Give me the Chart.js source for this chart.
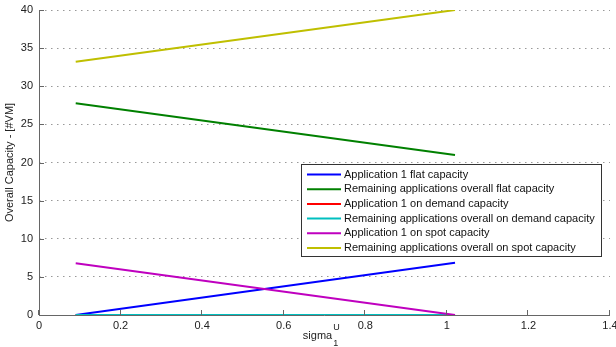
<!DOCTYPE html>
<html>
<head>
<meta charset="utf-8">
<script src="https://cdn.jsdelivr.net/npm/chart.js@4/dist/chart.umd.min.js"></script>
<style>
html,body{margin:0;padding:0;background:#fff;}
#wrap{width:616px;height:347px;position:relative;}
</style>
</head>
<body>
<div id="wrap"><canvas id="c" width="616" height="347"></canvas></div>
<script>
const xValues = [0.09, 1.02];
const app1Flat = [0, 6.86];
const remFlat = [27.76, 20.98];
const app1Demand = [0, 0];
const remDemand = [0, 0];
const app1Spot = [6.78, 0];
const remSpot = [33.2, 40];
const seriesLabels = [
  'Application 1 flat capacity',
  'Remaining applications overall flat capacity',
  'Application 1 on demand capacity',
  'Remaining applications overall on demand capacity',
  'Application 1 on spot capacity',
  'Remaining applications overall on spot capacity'
];
const seriesColors = ['#0000ff', '#008000', '#ff0000', '#00bfbf', '#bf00bf', '#bfbf00'];
const seriesValues = [app1Flat, remFlat, app1Demand, remDemand, app1Spot, remSpot];
const yTicks = [0, 5, 10, 15, 20, 25, 30, 35, 40];
const xTicks = [0, 0.2, 0.4, 0.6, 0.8, 1, 1.2, 1.4];
const yTitle = 'Overall Capacity - [#VM]';
const xTitle = 'sigma';
const xTitleSup = 'U';
const xTitleSub = '1';

const FONT = '"Liberation Sans", Arial, sans-serif';

const datasets = seriesValues.map((vals, i) => ({
  label: seriesLabels[i],
  data: vals.map((v, j) => ({x: xValues[j], y: v})),
  borderColor: seriesColors[i],
  backgroundColor: seriesColors[i],
  borderWidth: 2,
  pointRadius: 0,
  fill: false,
  tension: 0,
  order: 6 - i
}));

const decor = {
  id: 'decor',
  afterDraw(chart) {
    const ctx = chart.ctx;
    const ca = chart.chartArea;
    const xs = chart.scales.x, ys = chart.scales.y;
    ctx.save();
    // axis lines
    ctx.strokeStyle = '#666';
    ctx.lineWidth = 1;
    ctx.beginPath();
    ctx.moveTo(ca.left + 0.5, ca.top);
    ctx.lineTo(ca.left + 0.5, ca.bottom + 0.5);
    ctx.lineTo(ca.right, ca.bottom + 0.5);
    ctx.stroke();
    // tick marks inside
    ctx.beginPath();
    yTicks.forEach(v => {
      const y = Math.round(ys.getPixelForValue(v)) + 0.5;
      ctx.moveTo(ca.left, y);
      ctx.lineTo(ca.left + 5, y);
    });
    xTicks.forEach(v => {
      const x = Math.round(xs.getPixelForValue(v)) - 0.5;
      ctx.moveTo(x, ca.bottom);
      ctx.lineTo(x, ca.bottom - 5);
    });
    ctx.stroke();
    // y title
    ctx.fillStyle = '#222';
    ctx.font = '11px ' + FONT;
    ctx.textAlign = 'center';
    ctx.textBaseline = 'middle';
    ctx.translate(10, (ca.top + ca.bottom) / 2);
    ctx.rotate(-Math.PI / 2);
    ctx.fillText(yTitle, 0, 0);
    ctx.restore();
    // x title
    ctx.save();
    ctx.fillStyle = '#222';
    ctx.font = '11px ' + FONT;
    ctx.textAlign = 'left';
    ctx.textBaseline = 'alphabetic';
    const w = ctx.measureText(xTitle).width;
    const cx = (ca.left + ca.right) / 2 - 4;
    const x0 = cx - w / 2 - 3;
    ctx.fillText(xTitle, x0, 339);
    ctx.font = '9px ' + FONT;
    ctx.fillText(xTitleSup, x0 + w + 1, 330);
    ctx.fillText(xTitleSub, x0 + w + 1, 346);
    ctx.restore();
    // legend
    ctx.save();
    const lx = 301, ly = 164, lw = 300, lh = 92;
    ctx.fillStyle = '#fff';
    ctx.fillRect(lx, ly, lw, lh);
    ctx.strokeStyle = '#333';
    ctx.lineWidth = 1;
    ctx.strokeRect(lx + 0.5, ly + 0.5, lw, lh);
    ctx.font = '11px ' + FONT;
    ctx.textBaseline = 'middle';
    ctx.textAlign = 'left';
    seriesLabels.forEach((lab, i) => {
      const y = ly + 10.5 + i * 14.7;
      ctx.strokeStyle = seriesColors[i];
      ctx.lineWidth = 2;
      ctx.beginPath();
      ctx.moveTo(307, y);
      ctx.lineTo(341, y);
      ctx.stroke();
      ctx.fillStyle = '#111';
      ctx.fillText(lab, 344, y);
    });
    ctx.restore();
  }
};

new Chart(document.getElementById('c'), {
  type: 'line',
  data: { datasets },
  options: {
    responsive: false,
    animation: false,
    events: [],
    layout: { padding: { left: 0, right: 6, top: 10, bottom: 0 } },
    plugins: { legend: { display: false }, tooltip: { enabled: false } },
    scales: {
      x: {
        type: 'linear',
        min: 0, max: 1.4,
        afterBuildTicks: s => { s.ticks = xTicks.map(v => ({value: v})); },
        afterFit: s => { s.height = 32; s.paddingLeft = 0; s.paddingRight = 0; },
        grid: { display: false, drawTicks: false },
        border: { display: false },
        ticks: {
          color: '#222', font: { family: FONT, size: 11 }, padding: 4,
          maxRotation: 0, autoSkip: false,
          callback: v => String(v)
        }
      },
      y: {
        type: 'linear',
        min: 0, max: 40,
        afterBuildTicks: s => { s.ticks = yTicks.map(v => ({value: v})); },
        afterFit: s => { s.width = 39; s.paddingTop = 0; s.paddingBottom = 0; },
        grid: {
          color: '#999', lineWidth: 1, drawTicks: false,
          tickBorderDash: [], 
        },
        border: { display: false, dash: [1.5, 4.5] },
        ticks: {
          color: '#222', font: { family: FONT, size: 11 }, padding: 6,
          autoSkip: false, callback: v => String(v)
        }
      }
    }
  },
  plugins: [decor, {
    id: 'dash',
    beforeDraw(chart) {
      chart.options.scales.y.grid.borderDash = [1.5, 4.5];
    }
  }]
});
</script>
</body>
</html>
